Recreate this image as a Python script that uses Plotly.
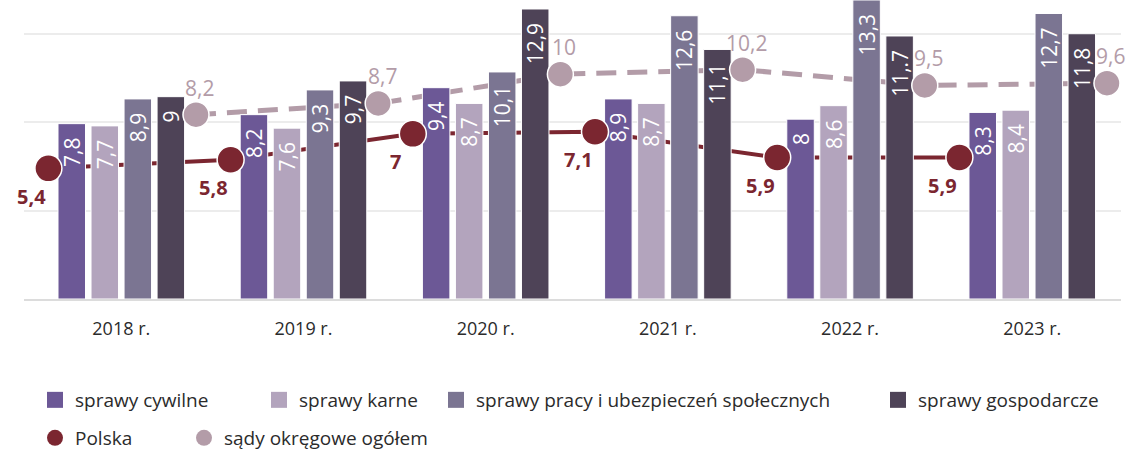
import numpy as np
import plotly.graph_objects as go

# dane
lata = ["2018 r.", "2019 r.", "2020 r.", "2021 r.", "2022 r.", "2023 r."]
cywilne = [7.8, 8.2, 9.4, 8.9, 8.0, 8.3]
karne = [7.7, 7.6, 8.7, 8.7, 8.6, 8.4]
praca = [8.9, 9.3, 10.1, 12.6, 13.3, 12.7]
gospodarcze = [9.0, 9.7, 12.9, 11.1, 11.7, 11.8]
gospodarcze_etykiety = ["9", "9,7", "12,9", "11,1", "11,.7", "11,8"]  # tak jak w oryginale
polska = [5.4, 5.8, 7.0, 7.1, 5.9, 5.9]
sady_okregowe = [8.2, 8.7, 10.0, 10.2, 9.5, 9.6]

W, H = 1129, 450
FONT = "Open Sans"


def fmt(v):
    # przecinek dziesiętny
    return f"{v:g}".replace(".", ",")


x = np.arange(len(lata))
x_polska = x - 0.4
x_sady = x + 0.41

kolory = {
    "sprawy cywilne": "#6c5896",
    "sprawy karne": "#b3a4bd",
    "sprawy pracy i ubezpieczeń społecznych": "#7b7592",
    "sprawy gospodarcze": "#4e4357",
}
c_polska = "#7b2630"
c_sady = "#b39ca8"

fig = go.Figure()

# warstwy: linie pod słupkami, kropki nad słupkami (osie nakładane jedna na drugą)
# y  - linia sądów okręgowych
# y2 - linia Polska (w oryginale narysowana trochę wyżej, stąd osobna skala)
# y3 - słupki
# y4 - kropki Polska
# y5 - kropki sądów okręgowych
fig.add_trace(
    go.Scatter(
        x=x_sady, y=sady_okregowe, mode="lines",
        line=dict(color=c_sady, width=5, dash="20px,11px"),
        cliponaxis=False, showlegend=False, yaxis="y",
    )
)
fig.add_trace(
    go.Scatter(
        x=x_polska, y=polska, mode="lines",
        line=dict(color=c_polska, width=4),
        cliponaxis=False, showlegend=False, yaxis="y2",
    )
)

serie = [
    ("sprawy cywilne", cywilne, [fmt(v) for v in cywilne]),
    ("sprawy karne", karne, [fmt(v) for v in karne]),
    ("sprawy pracy i ubezpieczeń społecznych", praca, [fmt(v) for v in praca]),
    ("sprawy gospodarcze", gospodarcze, gospodarcze_etykiety),
]

for nazwa, wartosci, etykiety in serie:
    fig.add_trace(
        go.Bar(
            x=x,
            y=wartosci,
            name=nazwa,
            marker=dict(color=kolory[nazwa], line=dict(color="white", width=1)),
            # twarde spacje na końcu = odstęp od góry słupka
            text=[e + "\u00a0\u00a0" for e in etykiety],
            textposition="inside",
            insidetextanchor="end",
            textangle=-90,
            textfont=dict(color="white", size=21, family=FONT),
            cliponaxis=False,
            showlegend=False,
            yaxis="y3",
        )
    )

fig.add_trace(
    go.Scatter(
        x=x_polska, y=polska, mode="markers",
        marker=dict(size=27, color=c_polska, line=dict(color="white", width=1.5)),
        cliponaxis=False, showlegend=False, yaxis="y4",
    )
)
fig.add_trace(
    go.Scatter(
        x=x_sady, y=sady_okregowe, mode="markers",
        marker=dict(size=26, color=c_sady, line=dict(color="white", width=1.5)),
        cliponaxis=False, showlegend=False, yaxis="y5",
    )
)

# etykiety linii
for xi, v in zip(x_polska, polska):
    fig.add_annotation(
        x=xi, y=v, xref="x", yref="y2",
        text=fmt(v), showarrow=False,
        xshift=-17, yshift=-28,
        font=dict(color=c_polska, size=20, family=FONT, weight="bold"),
    )
for xi, v in zip(x_sady, sady_okregowe):
    fig.add_annotation(
        x=xi, y=v, xref="x", yref="y",
        text=fmt(v), showarrow=False,
        xshift=4, yshift=27,
        font=dict(color=c_sady, size=21, family=FONT),
    )

# legenda - każda pozycja osobno, żeby rozstawić jak w oryginale
legenda = [
    ("sprawy cywilne", kolory["sprawy cywilne"], "square", 52, 400),
    ("sprawy karne", kolory["sprawy karne"], "square", 276, 400),
    ("sprawy pracy i ubezpieczeń społecznych", kolory["sprawy pracy i ubezpieczeń społecznych"], "square", 453, 400),
    ("sprawy gospodarcze", kolory["sprawy gospodarcze"], "square", 895, 400),
    ("Polska", c_polska, "circle", 52, 438),
    ("sądy okręgowe ogółem", c_sady, "circle", 201, 438),
]

legend_layout = {}
for i, (nazwa, kolor, symbol, sx, sy) in enumerate(legenda):
    key = "legend" if i == 0 else f"legend{i + 1}"
    fig.add_trace(
        go.Scatter(
            x=[None],
            y=[None],
            mode="markers",
            name=nazwa,
            marker=dict(color=kolor, symbol=symbol, size=30),
            legend=key,
        )
    )
    legend_layout[key] = dict(
        x=(sx - 17) / W,
        y=1 - sy / H,
        xref="container",
        yref="container",
        xanchor="left",
        yanchor="middle",
        font=dict(size=19, color="#2b2b2b", family=FONT),
        bgcolor="rgba(0,0,0,0)",
    )

zakres = [0, 13.3]
zakres_polska = [-0.66, 13.21]
ukryta = dict(overlaying="y", visible=False, showgrid=False, zeroline=False)

fig.update_layout(
    width=W,
    height=H,
    margin=dict(l=24, r=8, t=0, b=151, autoexpand=False),
    paper_bgcolor="white",
    plot_bgcolor="white",
    barmode="group",
    bargap=0.275,
    bargroupgap=0.167,
    uniformtext=dict(minsize=21, mode="show"),
    font=dict(family=FONT, color="#2b2b2b"),
    xaxis=dict(
        range=[-0.534, 5.487],
        tickmode="array",
        tickvals=x,
        ticktext=lata,
        tickfont=dict(size=18, color="#2b2b2b"),
        ticklabelstandoff=13,
        showgrid=False,
        showline=True,
        linecolor="#dcdcdc",
        linewidth=1.5,
        zeroline=False,
    ),
    yaxis=dict(
        range=zakres,
        tickvals=[3.93, 7.86, 11.79],
        showticklabels=False,
        gridcolor="#ececec",
        gridwidth=1.5,
        zeroline=False,
    ),
    yaxis2=dict(range=zakres_polska, **ukryta),
    yaxis3=dict(range=zakres, **ukryta),
    yaxis4=dict(range=zakres_polska, **ukryta),
    yaxis5=dict(range=zakres, **ukryta),
    **legend_layout,
)

# bez domyślnego marginesu strony (8px), żeby wykres zaczynał się w rogu okna
fig.write_html(
    "out.html",
    config={"displayModeBar": False},
    post_script="document.body.style.margin='0';",
)
